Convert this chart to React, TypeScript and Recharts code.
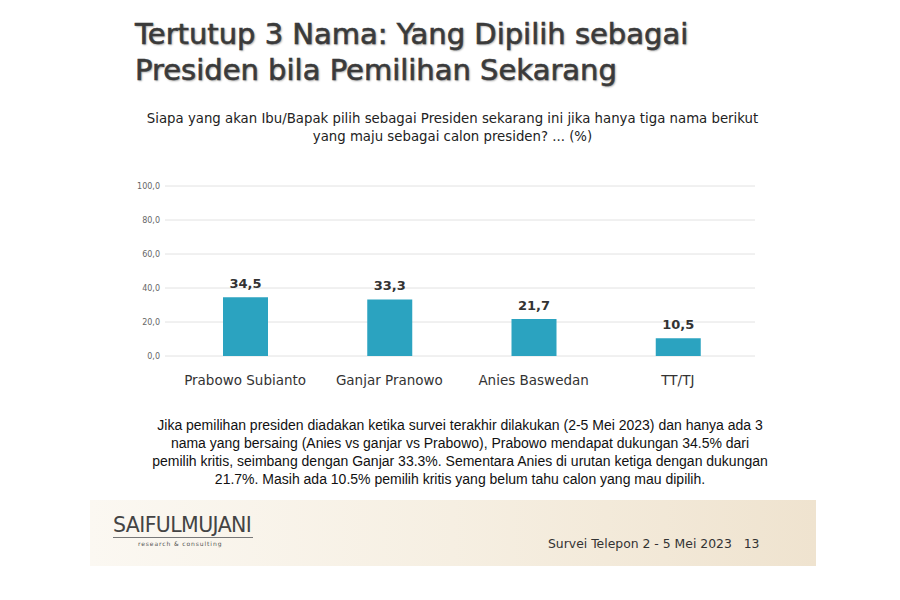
import { Bar, BarChart, CartesianGrid, LabelList, XAxis, YAxis } from "recharts";

const candidates = ["Prabowo Subianto", "Ganjar Pranowo", "Anies Baswedan", "TT/TJ"];
const votes = [34.5, 33.3, 21.7, 10.5];
const yTicks = [0, 20, 40, 60, 80, 100];

const titleLines = ["Tertutup 3 Nama: Yang Dipilih sebagai", "Presiden bila Pemilihan Sekarang"];
const questionLines = [
  "Siapa yang akan Ibu/Bapak pilih sebagai Presiden sekarang ini jika hanya tiga nama berikut",
  "yang maju sebagai calon presiden? ... (%)",
];
const noteLines = [
  "Jika pemilihan presiden diadakan ketika survei terakhir dilakukan (2-5 Mei 2023) dan hanya ada 3",
  "nama yang bersaing (Anies vs ganjar vs Prabowo), Prabowo mendapat dukungan 34.5% dari",
  "pemilih kritis, seimbang dengan Ganjar 33.3%. Sementara Anies di urutan ketiga dengan dukungan",
  "21.7%. Masih ada 10.5% pemilih kritis yang belum tahu calon yang mau dipilih.",
];

const chartData = candidates.map((name, i) => ({ name, value: votes[i] }));
const comma = (v: number) => v.toFixed(1).replace(".", ",");

const sans = '"DejaVu Sans", Verdana, sans-serif';

export default function App() {
  return (
    <div style={{ position: "relative", left: -8, top: -8, width: 900, height: 600, background: "#fff", overflow: "hidden" }}>
      {/* title */}
      <div style={{ position: "absolute", left: 135, top: 16, fontFamily: sans, fontSize: 29, lineHeight: "36px", color: "#3a3a3a", WebkitTextStroke: "0.6px #3a3a3a", textShadow: "1px 1px 2px #999" }}>
        {titleLines.map((t) => (
          <div key={t}>{t}</div>
        ))}
      </div>

      {/* question */}
      <div style={{ position: "absolute", left: 120, width: 665, top: 110, textAlign: "center", fontFamily: sans, fontSize: 13.3, lineHeight: "18px", color: "#222" }}>
        {questionLines.map((t) => (
          <div key={t}>{t}</div>
        ))}
      </div>

      <div style={{ position: "absolute", left: 0, top: 0 }}>
        <BarChart width={900} height={400} data={chartData} margin={{ top: 186, right: 145, bottom: 14, left: 125 }}>
          <CartesianGrid vertical={false} stroke="#e2e2e2" />
          <XAxis
            dataKey="name"
            axisLine={false}
            tickLine={false}
            padding={{ left: 8, right: 5 }}
            tickMargin={13}
            tick={{ fontFamily: sans, fontSize: 13.5, fill: "#333" }}
            interval={0}
          />
          <YAxis
            width={40}
            domain={[0, 100]}
            ticks={yTicks}
            axisLine={false}
            tickLine={false}
            tickSize={0}
            tickMargin={5}
            tickFormatter={comma}
            tick={{ fontFamily: sans, fontSize: 8, fill: "#666" }}
          />
          <Bar dataKey="value" fill="#2ba3c0" barSize={45} isAnimationActive={false}>
            <LabelList dataKey="value" position="top" offset={9} formatter={(v: any) => comma(Number(v))} style={{ fontFamily: sans, fontSize: 13, fontWeight: "bold", fill: "#333" }} />
          </Bar>
        </BarChart>
      </div>

      {/* note */}
      <div style={{ position: "absolute", left: 140, width: 640, top: 416, textAlign: "center", fontFamily: '"Liberation Sans", Arial, sans-serif', fontSize: 14, lineHeight: "18px", color: "#111" }}>
        {noteLines.map((t) => (
          <div key={t}>{t}</div>
        ))}
      </div>

      {/* footer band */}
      <div style={{ position: "absolute", left: 90, top: 500, width: 726, height: 66, background: "linear-gradient(90deg, #fbf8f2 0%, #f6efe2 50%, #efe3cf 100%)" }}>
        <div style={{ position: "absolute", left: 23, top: 14, fontFamily: sans, fontSize: 20.5, color: "#444", letterSpacing: -0.6, borderBottom: "1px solid #777", lineHeight: "23px", paddingRight: 2 }}>
          SAIFULMUJANI
        </div>
        <div style={{ position: "absolute", left: 48, top: 40, fontFamily: sans, fontSize: 6, color: "#555", letterSpacing: 0.9 }}>
          research &amp; consulting
        </div>
        <div style={{ position: "absolute", left: 458, top: 36, fontFamily: sans, fontSize: 12.4, color: "#333", whiteSpace: "pre" }}>
          {"Survei Telepon 2 - 5 Mei 2023   13"}
        </div>
      </div>
    </div>
  );
}
